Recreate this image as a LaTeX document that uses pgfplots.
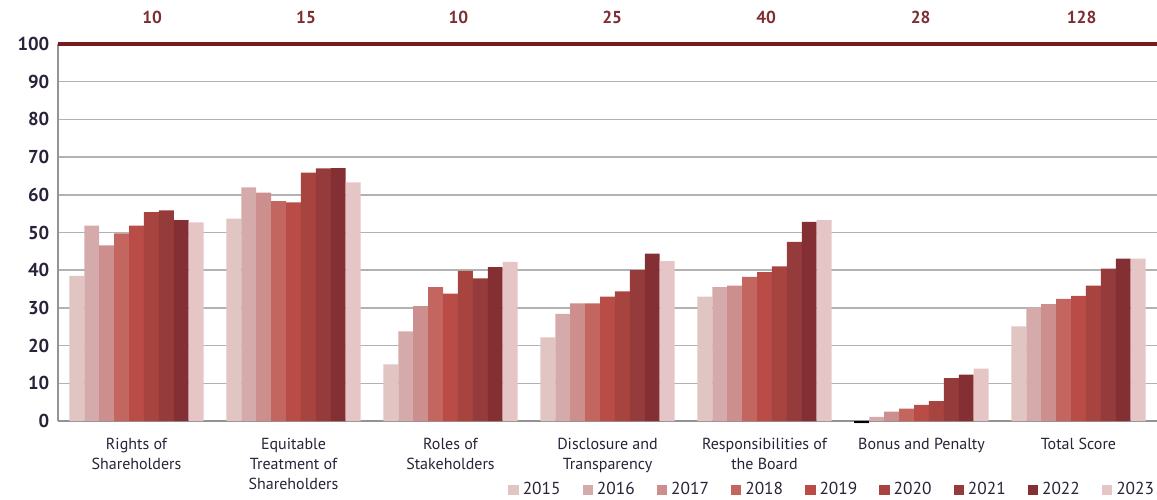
\documentclass[border=0pt]{standalone}
\usepackage{pgfplots}
\pgfplotsset{compat=1.18}
\usepackage{fontspec}
\setmainfont{PT Sans}
\definecolor{c15}{HTML}{E0C5C2}
\definecolor{c16}{HTML}{D5AAAA}
\definecolor{c17}{HTML}{CD8E8E}
\definecolor{c18}{HTML}{C3665F}
\definecolor{c19}{HTML}{B94C47}
\definecolor{c20}{HTML}{A84440}
\definecolor{c21}{HTML}{963B3C}
\definecolor{c22}{HTML}{832F33}
\definecolor{c23}{HTML}{E6C5C7}
\definecolor{topred}{HTML}{7A1A1C}
\definecolor{labred}{HTML}{7E2E32}
\definecolor{txt}{HTML}{2A2238}
\begin{document}
\begin{tikzpicture}
\begin{axis}[name=ax, scale only axis, width=824.25pt, height=282.75pt,
  xmin=-0.5, xmax=6.5, ymin=0, ymax=100,
  axis x line=bottom, axis y line=left,
  axis line style={-, draw=gray!85, line width=1.5pt},
  ytick={0,10,...,90}, extra y ticks={100},
  extra y tick style={grid style={draw=topred, line width=3pt}},
  ymajorgrids, grid style={draw=gray!60, line width=1.1pt},
  major tick length=0pt,
  /pgf/number format/assume math mode=true,
  yticklabel style={font=\bfseries\fontsize{14}{16}\selectfont, text=txt, xshift=-3pt},
  xtick={0,...,6},
  xticklabels={Rights of\\Shareholders, Equitable\\Treatment of\\Shareholders, Roles of\\Stakeholders, Disclosure and\\Transparency, Responsibilities of\\the Board, Bonus and Penalty, Total Score},
  xticklabel style={align=center, font=\fontsize{12}{15.2}\selectfont, text=txt, yshift=-9pt},
  ybar, bar width=0.095, clip=false,
  legend style={draw=none, fill=none, at={(1,0)}, anchor=north east, yshift=-44pt,
    font=\fontsize{13}{14}\selectfont, text=txt, inner sep=0pt,
    /tikz/every odd column/.append style={column sep=1pt},
    /tikz/every even column/.append style={column sep=14.5pt}},
  legend columns=9,
  legend image code/.code={\fill[#1] (0pt,-4pt) rectangle (7.8pt,3.8pt);},
]
\addplot[fill=c15, draw=none, bar shift=-0.38] coordinates {(0,38.5) (1,53.7) (2,15.0) (3,22.2) (4,33.0) (5,-0.6) (6,25.1)};
\addplot[fill=c16, draw=none, bar shift=-0.285] coordinates {(0,51.8) (1,62.0) (2,23.8) (3,28.4) (4,35.5) (5,1.1) (6,30.1)};
\addplot[fill=c17, draw=none, bar shift=-0.19] coordinates {(0,46.6) (1,60.6) (2,30.5) (3,31.2) (4,35.9) (5,2.5) (6,31.0)};
\addplot[fill=c18, draw=none, bar shift=-0.095] coordinates {(0,49.8) (1,58.3) (2,35.5) (3,31.2) (4,38.2) (5,3.3) (6,32.4)};
\addplot[fill=c19, draw=none, bar shift=0] coordinates {(0,51.8) (1,58.0) (2,33.8) (3,33.0) (4,39.5) (5,4.3) (6,33.2)};
\addplot[fill=c20, draw=none, bar shift=0.095] coordinates {(0,55.4) (1,65.9) (2,39.8) (3,34.4) (4,41.0) (5,5.3) (6,35.9)};
\addplot[fill=c21, draw=none, bar shift=0.19] coordinates {(0,55.9) (1,67.0) (2,37.8) (3,40.0) (4,47.5) (5,11.4) (6,40.4)};
\addplot[fill=c22, draw=none, bar shift=0.285] coordinates {(0,53.3) (1,67.1) (2,40.8) (3,44.4) (4,52.8) (5,12.3) (6,43.1)};
\addplot[fill=c23, draw=none, bar shift=0.38] coordinates {(0,52.7) (1,63.3) (2,42.2) (3,42.4) (4,53.3) (5,13.9) (6,43.1)};
\addplot[fill=black, draw=none, bar shift=-0.38, forget plot] coordinates {(5,-0.6)};
\legend{2015,2016,2017,2018,2019,2020,2021,2022,2023}
\foreach \xx/\tt in {0.10/10, 1.08/15, 2.05/10, 3.03/25, 4.01/40, 4.995/28, 6.02/128}{
  \edef\temp{\noexpand\node[text=labred, font=\noexpand\bfseries\noexpand\fontsize{13}{15}\noexpand\selectfont] at (axis cs:\xx,100) [yshift=20pt] {\tt};}
  \temp
}
\end{axis}
\pgfresetboundingbox
\path ([xshift=-43.5pt,yshift=-58.5pt]ax.south west) rectangle ([yshift=33pt]ax.north east);
\end{tikzpicture}
\end{document}
